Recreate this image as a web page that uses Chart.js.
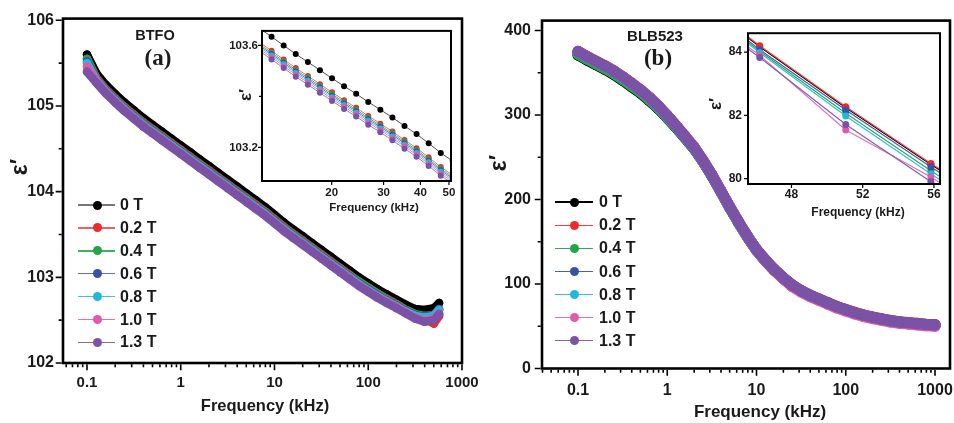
<!DOCTYPE html>
<html><head><meta charset="utf-8">
<script src="https://cdn.jsdelivr.net/npm/chart.js@4.4.1/dist/chart.umd.min.js"></script>
<style>
html,body{margin:0;padding:0;background:#fff;}
body{width:954px;height:423px;overflow:hidden;position:relative;font-family:"Liberation Sans",Arial,Helvetica,sans-serif;}
canvas{position:absolute;}
.t{position:absolute;font-weight:bold;white-space:nowrap;transform:translate(-50%,-50%);color:#1a1a1a;line-height:1;}
.r{transform:translate(-50%,-50%) rotate(-90deg);}
.sf{font-family:"Liberation Serif","Times New Roman",serif;}
.lg{position:absolute;}
</style></head><body>
<canvas id="cA" width="490" height="423" style="left:0;top:0"></canvas>
<canvas id="cB" width="500" height="423" style="left:477px;top:0"></canvas>
<canvas id="iA" width="230" height="205" style="left:230px;top:20px"></canvas>
<canvas id="iB" width="254" height="210" style="left:700px;top:20px"></canvas>

<div class="t" style="left:155px;top:35px;font-size:14.5px">BTFO</div>
<div class="t sf" style="left:158px;top:57px;font-size:23px">(a)</div>
<div class="t" style="left:655px;top:35px;font-size:15px">BLB523</div>
<div class="t sf" style="left:658px;top:57px;font-size:23px">(b)</div>

<div class="t" style="left:265px;top:405px;font-size:16.5px">Frequency (kHz)</div>
<div class="t" style="left:760px;top:411px;font-size:17px">Frequency (kHz)</div>
<div class="t r" style="left:19px;top:167px;font-size:23px">ε′</div>
<div class="t r" style="left:498px;top:163px;font-size:23px">ε′</div>

<div class="t" style="left:374px;top:208px;font-size:11.5px">Frequency (kHz)</div>
<div class="t" style="left:858px;top:212px;font-size:12px">Frequency (kHz)</div>
<div class="t r" style="left:245px;top:95px;font-size:17px">ε′</div>
<div class="t r" style="left:715px;top:104px;font-size:17px">ε′</div>

<div id="legs"></div>
<script>
// ---------- data ----------
const fieldLabels = ['0 T','0.2 T','0.4 T','0.6 T','0.8 T','1.0 T','1.3 T'];
const seriesColors = ['#000000','#ee2a2a','#1fa64a','#3852a4','#22b8dc','#df5aa8','#7a52a6'];

// Panel (a) BTFO main, frequency in kHz
const freqA = [0.1,0.126,0.158,0.2,0.251,0.316,0.398,0.501,0.631,0.794,1,1.26,1.58,2,2.51,3.16,3.98,5.01,6.31,7.94,10,12.6,15.8,20,25.1,31.6,39.8,50.1,63.1,79.4,100,126,158,200,251,316,398,501,570];
const btfo0T  = [105.60,105.38,105.25,105.14,105.04,104.95,104.86,104.78,104.70,104.62,104.54,104.46,104.38,104.30,104.22,104.14,104.06,103.98,103.90,103.82,103.73,103.64,103.56,103.48,103.40,103.32,103.24,103.16,103.08,103.00,102.93,102.86,102.80,102.74,102.68,102.63,102.62,102.64,102.70];
const btfo02T = [105.55,105.33,105.20,105.09,104.99,104.90,104.81,104.73,104.65,104.57,104.49,104.41,104.33,104.25,104.17,104.09,104.01,103.93,103.85,103.77,103.68,103.59,103.51,103.43,103.35,103.27,103.19,103.11,103.03,102.95,102.88,102.81,102.75,102.69,102.62,102.57,102.52,102.46,102.55];
const btfo04T = [105.55,105.32,105.19,105.08,104.98,104.89,104.80,104.72,104.64,104.56,104.48,104.40,104.32,104.24,104.16,104.08,104.00,103.92,103.84,103.76,103.67,103.58,103.50,103.42,103.34,103.26,103.18,103.10,103.02,102.95,102.88,102.81,102.74,102.68,102.62,102.57,102.55,102.56,102.62];
const btfo06T = [105.52,105.31,105.18,105.07,104.97,104.88,104.79,104.71,104.63,104.55,104.47,104.39,104.31,104.23,104.15,104.07,103.99,103.91,103.83,103.75,103.66,103.57,103.49,103.41,103.33,103.25,103.17,103.09,103.01,102.93,102.86,102.79,102.73,102.67,102.61,102.56,102.54,102.56,102.63];
const btfo08T = [105.50,105.30,105.17,105.06,104.96,104.87,104.78,104.70,104.62,104.54,104.46,104.38,104.30,104.22,104.14,104.06,103.98,103.90,103.82,103.74,103.65,103.56,103.48,103.40,103.32,103.24,103.16,103.08,103.00,102.92,102.85,102.78,102.72,102.66,102.60,102.55,102.53,102.55,102.62];
const btfo10T = [105.46,105.29,105.16,105.05,104.95,104.86,104.77,104.69,104.61,104.53,104.45,104.37,104.29,104.21,104.13,104.05,103.97,103.89,103.81,103.73,103.64,103.55,103.47,103.39,103.31,103.23,103.15,103.07,102.99,102.91,102.84,102.77,102.71,102.65,102.59,102.53,102.50,102.52,102.58];
const btfo13T = [105.40,105.27,105.15,105.04,104.94,104.85,104.76,104.68,104.60,104.52,104.44,104.36,104.28,104.20,104.12,104.04,103.96,103.88,103.80,103.72,103.63,103.54,103.46,103.38,103.30,103.22,103.14,103.06,102.98,102.90,102.83,102.76,102.70,102.64,102.58,102.52,102.48,102.50,102.57];

// Panel (b) BLB523 main
const freqB = [0.1,0.126,0.158,0.2,0.251,0.316,0.398,0.501,0.631,0.794,1,1.26,1.58,2,2.51,3.16,3.98,5.01,6.31,7.94,10,12.6,15.8,20,25.1,31.6,39.8,50.1,63.1,79.4,100,126,158,200,251,316,398,501,631,794,1000];
const blb0T  = [371,365,359.5,354,348,341,333.5,326,317,307.5, 296.5,285,273,260,245,228,209.5,190.5,172.5,155.5, 140,127.5,116.5,106.5,98,91.5,86,81.5,77,72.5, 69,65.5,62.5,60,58,56,54.5,53.5,52.5,51.5, 51];
const blb02T = [375.5,369.5,364,358.5,352.5,345.5,338,330,321,311, 299.5,287.5,275,262,246.5,229.5,210.5,191.5,173.5,156.5, 141,128.5,117.5,107.5,99,92.5,87,82.5,78,73.5, 70,66.5,63.5,61,59,57,55.5,54.5,53.5,52.5, 52];
const blb04T = [372,366,360.5,355,349,342,334.5,327,318,308, 297,285.5,273.5,260.5,245.5,228.5,209.5,190.5,172.5,155.5, 140,127.5,116.5,106.5,98,91.5,86,81.5,77,72.5, 69,65.5,62.5,60,58,56,54.5,53.5,52.5,51.5, 51];
const blb06T = [375,369,363.5,358,352,345,337.5,329.5,320.5,310.5, 299,287,274.5,261.5,246,229,210,191,173,156, 140.5,128,117,107,98.5,92,86.5,82,77.5,73, 69.5,66,63,60.5,58.5,56.5,55,54,53,52, 51.5];
const blb08T = [374.5,368.5,363,357.5,351.5,344.5,337,329,320,310, 298.5,286.5,274,261,245.5,228.5,209.5,190.5,172.5,155.5, 140,127.5,116.5,106.5,98,91.5,86,81.5,77,72.5, 69,65.5,62.5,60,58,56,54.5,53.5,52.5,51.5, 51];
const blb10T = [375,369,363.5,358,352,345,337.5,329.5,320.5,310.5, 299,287,274.5,261.5,246,229,210,191,173,156, 140,127,116,106,97,90.5,85,80.5,76,71.5, 68,64.5,61.5,59,57,55,53.5,52.5,51.5,50.5, 50];
const blb13T = [375,369,363.5,358,352,345,337.5,329.5,320.5,310.5, 299,287,274.5,261.5,246,229,210,191,173,156, 140.5,128,117,107,98.5,92,86.5,82,77.5,73, 69.5,66,63,60.5,58.5,56.5,55,54,53,52, 51.5];

// Inset (a): 11.6 - 50.8 kHz
const freqInsA = [11.37,12.5,13.74,15.10,16.60,18.24,20.05,22.03,24.21,26.61,29.25,32.14,35.32,38.82,42.66,46.89,51.5];
const insA0T  = [103.667,103.634,103.600,103.566,103.535,103.503,103.471,103.440,103.410,103.378,103.348,103.317,103.284,103.252,103.216,103.178,103.146];
const insA02T = [103.612,103.579,103.545,103.511,103.480,103.448,103.416,103.385,103.355,103.323,103.293,103.262,103.229,103.197,103.161,103.123,103.091];
const insA04T = [103.605,103.572,103.538,103.504,103.473,103.441,103.409,103.378,103.348,103.316,103.286,103.255,103.222,103.190,103.154,103.116,103.084];
const insA06T = [103.599,103.566,103.532,103.498,103.467,103.435,103.403,103.372,103.342,103.310,103.280,103.249,103.216,103.184,103.148,103.110,103.078];
const insA08T = [103.593,103.560,103.526,103.492,103.461,103.429,103.397,103.366,103.336,103.304,103.274,103.243,103.210,103.178,103.142,103.104,103.072];
const insA10T = [103.586,103.553,103.519,103.485,103.454,103.422,103.390,103.359,103.329,103.297,103.267,103.236,103.203,103.171,103.135,103.097,103.065];
const insA13T = [103.578,103.545,103.511,103.477,103.446,103.414,103.382,103.351,103.321,103.289,103.259,103.228,103.195,103.163,103.127,103.089,103.057];

// Inset (b): 45.6 - 56.3 kHz
const freqInsB = [42.0,46.22,51.05,55.83,61.4];
const insB0T  = [86.00,84.17,82.24,80.45,78.42];
const insB02T = [86.05,84.20,82.27,80.48,78.45];
const insB04T = [85.85,84.03,82.07,80.25,78.22];
const insB06T = [85.93,84.08,82.17,80.37,78.33];
const insB08T = [85.80,83.98,81.98,80.15,78.12];
const insB10T = [85.60,83.90,81.54,80.05,78.05];
const insB13T = [85.55,83.83,81.71,79.90,77.90];

const mainATicks = [102,103,104,105,106];
const mainBTicks = [0,100,200,300,400];
const logTicks = [0.1,1,10,100,1000];
const insAxTicks = [20,30,40,50];
const insAyTicks = [103.2,103.6];
const insBxTicks = [48,52,56];
const insByTicks = [80,82,84];

// ---------- helpers ----------
const FONT = '"Liberation Sans", Arial, sans-serif';
function logMinors(lo, hi){ const out=[]; for(let e=-2;e<=3;e++){ for(let m=2;m<=9;m++){ const v=m*Math.pow(10,e); if(v>lo && v<hi) out.push(v);} } return out; }
function axisPlugin(o){
  return {id:'axfr',
    beforeDraw(c){ if(o.fill){ const a=c.chartArea; c.ctx.save(); c.ctx.fillStyle='#fff'; c.ctx.fillRect(a.left,a.top,a.right-a.left,a.bottom-a.top); c.ctx.restore(); } },
    afterDraw(c){
      const ctx=c.ctx, a=c.chartArea, x=c.scales.x, y=c.scales.y;
      ctx.save(); ctx.strokeStyle='#000'; ctx.lineWidth=o.lw;
      ctx.strokeRect(a.left,a.top,a.right-a.left,a.bottom-a.top);
      ctx.lineWidth=o.tw; ctx.beginPath();
      const b=a.bottom+o.lw/2, l=a.left-o.lw/2;
      o.xMaj.forEach(v=>{const p=x.getPixelForValue(v); ctx.moveTo(p,b); ctx.lineTo(p,b+o.maj);});
      o.xMin.forEach(v=>{const p=x.getPixelForValue(v); ctx.moveTo(p,b); ctx.lineTo(p,b+o.min);});
      o.yMaj.forEach(v=>{const p=y.getPixelForValue(v); ctx.moveTo(l,p); ctx.lineTo(l-o.maj,p);});
      o.yMin.forEach(v=>{const p=y.getPixelForValue(v); ctx.moveTo(l,p); ctx.lineTo(l-o.min,p);});
      ctx.stroke();
      if(o.xLab){
        ctx.fillStyle='#1a1a1a'; ctx.font='bold '+o.xFs+'px '+FONT; ctx.textAlign='center'; ctx.textBaseline='middle';
        o.xMaj.forEach(v=>{ ctx.fillText(String(v), x.getPixelForValue(v), a.bottom+o.xLab); });
      }
      ctx.restore();
    }};
}
function mkDatasets(xs, arrs, r, bw, lineCols){
  return arrs.map((arr,i)=>({
    label: fieldLabels[i],
    data: xs.map((f,j)=>({x:f,y:arr[j]})),
    borderColor: lineCols ? lineCols[i] : seriesColors[i],
    backgroundColor: seriesColors[i],
    pointBackgroundColor: seriesColors[i],
    pointBorderWidth: 0, pointRadius: r, borderWidth: bw,
    borderJoinStyle:'round', borderCapStyle:'round', tension:0,
    order: 7-i, clip: 0
  }));
}
function mkChart(id, datasets, o){
  return new Chart(document.getElementById(id), {
    type:'line',
    data:{datasets},
    options:{
      responsive:false, animation:false, events:[],
      layout:{padding:o.pad},
      plugins:{legend:{display:false}, tooltip:{enabled:false}},
      scales:{
        x:{type:o.xType, min:o.xMin, max:o.xMax,
           afterBuildTicks:s=>{s.ticks=o.xTicks.map(v=>({value:v}));},
           afterFit:s=>{s.height=o.xH;},
           grid:{display:false, drawTicks:false}, border:{display:false},
           ticks:{display:!o.ax.xLab, callback:v=>String(v), autoSkip:false, maxRotation:0, padding:o.xPad,
                  color:'#1a1a1a', font:{family:FONT, size:o.xFs, weight:'bold'}}},
        y:{type:'linear', min:o.yMin, max:o.yMax,
           afterBuildTicks:s=>{s.ticks=o.yTicks.map(v=>({value:v}));},
           afterFit:s=>{s.width=o.yW;},
           grid:{display:false, drawTicks:false}, border:{display:false},
           ticks:{callback:o.yFmt, autoSkip:false, padding:o.yPad,
                  color:'#1a1a1a', font:{family:FONT, size:o.yFs, weight:'bold'}}}
      }
    },
    plugins:[axisPlugin(o.ax)]
  });
}

// ---------- main (a) ----------
mkChart('cA', mkDatasets(freqA,[btfo0T,btfo02T,btfo04T,btfo06T,btfo08T,btfo10T,btfo13T],4.2,8.4), {
  pad:{left:0,top:15,right:28,bottom:0}, xType:'logarithmic', xMin:0.0555, xMax:1000, xTicks:logTicks,
  xH:60, xPad:11, xFs:15, yMin:102, yMax:106.02, yTicks:mainATicks, yW:63, yPad:9, yFs:16, yFmt:v=>String(v),
  ax:{lw:2.6, tw:1.6, maj:6, min:3, xMaj:logTicks, xMin:logMinors(0.0555,1000), yMaj:mainATicks, yMin:[102.5,103.5,104.5,105.5]}
});
// ---------- main (b) ----------
mkChart('cB', mkDatasets(freqB,[blb0T,blb02T,blb04T,blb06T,blb08T,blb10T,blb13T],5.5,11), {
  pad:{left:0,top:16,right:27,bottom:0}, xType:'logarithmic', xMin:0.0395, xMax:1472, xTicks:logTicks,
  xH:54.5, xPad:12, xFs:16, yMin:0, yMax:411.7, yTicks:mainBTicks, yW:65, yPad:11, yFs:16, yFmt:v=>String(v),
  ax:{lw:2.6, tw:1.6, maj:6, min:3, xMaj:logTicks, xMin:logMinors(0.0395,1472), yMaj:mainBTicks, yMin:[50,150,250,350]}
});
// ---------- inset (a) ----------
const insLineColsA = ['#555','#f07070','#50b870','#6a7cc0','#50c8e8','#ea88c4','#9a80c4'];
mkChart('iA', mkDatasets(freqInsA,[insA0T,insA02T,insA04T,insA06T,insA08T,insA10T,insA13T],3,1,insLineColsA), {
  pad:{left:0,top:5,right:9,bottom:0}, xType:'logarithmic', xMin:11.6, xMax:50.8, xTicks:insAxTicks,
  xH:44, xPad:6, xFs:11.5, yMin:103.068, yMax:103.657, yTicks:insAyTicks, yW:32, yPad:4, yFs:11.5, yFmt:v=>v.toFixed(1),
  ax:{lw:2, tw:1.2, maj:3, min:2, fill:true, xLab:12, xFs:11.5, xMaj:insAxTicks, xMin:[], yMaj:insAyTicks, yMin:[103.4]}
});
// ---------- inset (b) ----------
const insLineColsB = ['#000','#f04040','#30a858','#4860b0','#30c0e0','#e070b8','#8060b0'];
mkChart('iB', mkDatasets(freqInsB,[insB0T,insB02T,insB04T,insB06T,insB08T,insB10T,insB13T],3.5,1.2,insLineColsB), {
  pad:{left:0,top:6,right:14,bottom:0}, xType:'linear', xMin:45.56, xMax:56.34, xTicks:insBxTicks,
  xH:46, xPad:5, xFs:12, yMin:79.83, yMax:84.6, yTicks:insByTicks, yW:48, yPad:6, yFs:12, yFmt:v=>String(v),
  ax:{lw:2, tw:1.2, maj:3, min:2, fill:true, xLab:11, xFs:12, xMaj:insBxTicks, xMin:[], yMaj:insByTicks, yMin:[]}
});

// ---------- legends ----------
function legend(y0, dy, lineL, lineR, dotX, textX, lineCols, lineWs){
  const host=document.getElementById('legs');
  fieldLabels.forEach((lab,i)=>{
    const y=y0+i*dy;
    const ln=document.createElement('div'); ln.className='lg';
    ln.style.cssText=`left:${lineL}px;top:${y-lineWs[i]/2}px;width:${lineR-lineL}px;height:${lineWs[i]}px;background:${lineCols[i]};`;
    const dt=document.createElement('div'); dt.className='lg';
    dt.style.cssText=`left:${dotX-4.5}px;top:${y-4.5}px;width:9px;height:9px;border-radius:50%;background:${seriesColors[i]};`;
    const tx=document.createElement('div'); tx.className='lg';
    tx.style.cssText=`left:${textX}px;top:${y}px;transform:translateY(-50%);font-weight:bold;font-size:16px;color:#1a1a1a;line-height:1;white-space:nowrap;`;
    tx.textContent=lab;
    host.appendChild(ln); host.appendChild(dt); host.appendChild(tx);
  });
}
legend(205, 22.9, 78, 115, 97, 120, ['#777','#f06060','#40b060','#6070b8','#40c0e0','#e070b8','#8a68b0'], [1.6,1.6,1.6,1.6,1.6,1.6,1.6]);
legend(202.3, 23.07, 555, 593, 574, 599, ['#000','#f04040','#30a858','#4860b0','#30c0e0','#e070b8','#8060b0'], [2,1,1.3,1.3,1.3,1,1.3]);
</script>
</body></html>
